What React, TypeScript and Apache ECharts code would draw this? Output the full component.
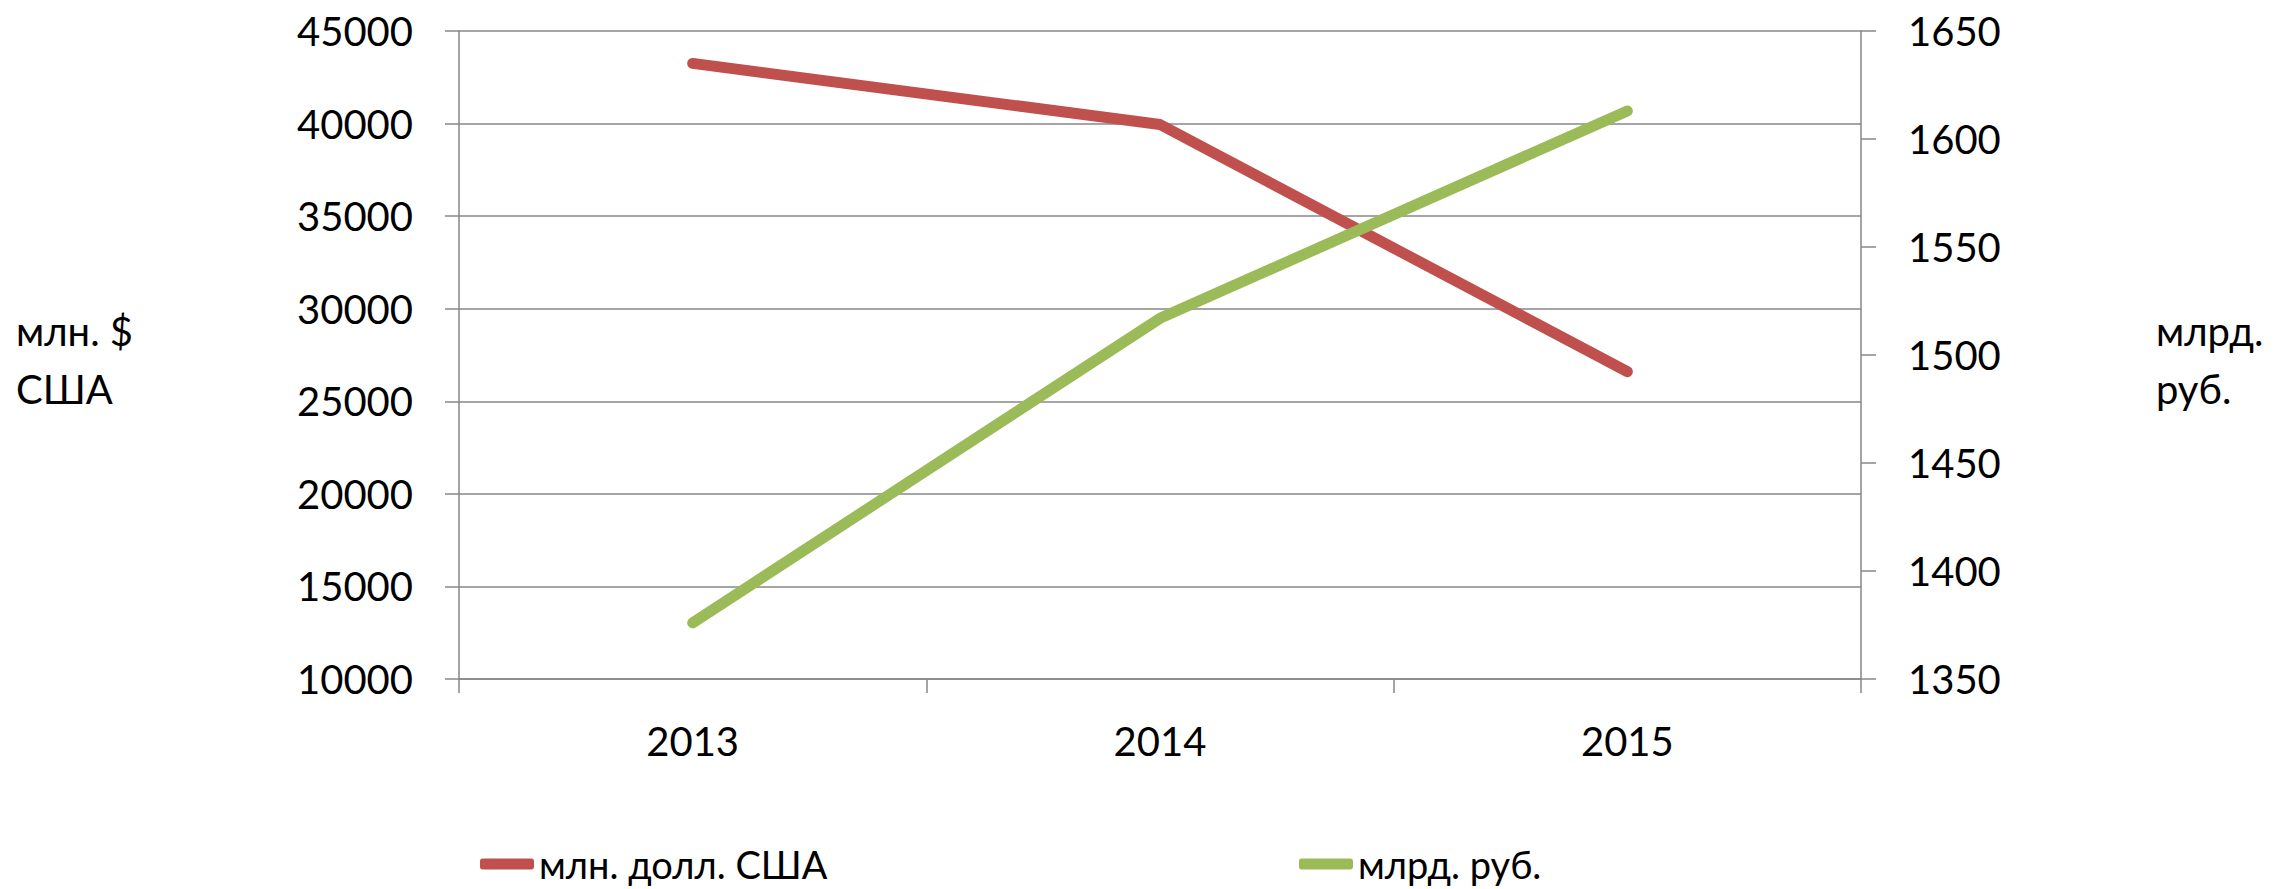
import React, { useEffect, useRef } from "react";
import * as echarts from "echarts";

const years = ["2013", "2014", "2015"];
const usdMln = [43250, 39950, 26600];
const rubBln = [1376, 1517, 1613];
const seriesNames = ["млн. долл. США", "млрд. руб."];
const leftTitle = "млн. $\nСША";
const rightTitle = "млрд.\nруб.";
const colors = ["#C0504D", "#9BBB59"];

export default function App() {
  const ref = useRef<HTMLDivElement>(null);
  useEffect(() => {
    document.body.style.margin = "0";
    const chart = echarts.init(ref.current!, null, { renderer: "svg" });
    const grey = "#878787";
    const font = "Lato";
    const plain = (v: number) => String(v);
    const legendText = { fontFamily: font, fontSize: 38, color: "#000", lineHeight: 44 };
    const legendBase = {
      top: 842,
      padding: 0,
      itemWidth: 54,
      itemHeight: 11,
      textStyle: legendText,
      selectedMode: false,
    };
    chart.setOption({
      animation: false,
      backgroundColor: "#ffffff",
      textStyle: { fontFamily: font, color: "#000" },
      grid: { left: 459, right: 413, top: 31, bottom: 210, containLabel: false },
      legend: [
        { ...legendBase, data: [{ name: seriesNames[0], icon: "roundRect" }], left: 480 },
        { ...legendBase, data: [{ name: seriesNames[1], icon: "roundRect" }], left: 1299 },
      ],
      xAxis: {
        type: "category",
        data: years,
        boundaryGap: true,
        axisLine: { show: true, lineStyle: { color: grey, width: 1.5 } },
        axisTick: { show: true, length: 14, lineStyle: { color: grey, width: 1.5 } },
        axisLabel: { fontSize: 40, fontFamily: font, color: "#000", margin: 42, lineHeight: 40 },
        splitLine: { show: false },
      },
      yAxis: [
        {
          type: "value",
          min: 10000,
          max: 45000,
          interval: 5000,
          position: "left",
          axisLine: { show: true, lineStyle: { color: grey, width: 1.5 } },
          axisTick: { show: true, length: 14, lineStyle: { color: grey, width: 1.5 } },
          axisLabel: { fontSize: 40, fontFamily: font, color: "#000", margin: 46, formatter: plain },
          splitLine: { show: true, lineStyle: { color: grey, width: 1.5 } },
        },
        {
          type: "value",
          min: 1350,
          max: 1650,
          interval: 50,
          position: "right",
          axisLine: { show: true, lineStyle: { color: grey, width: 1.5 } },
          axisTick: { show: true, length: 15, lineStyle: { color: grey, width: 1.5 } },
          axisLabel: { fontSize: 40, fontFamily: font, color: "#000", margin: 47, formatter: plain },
          splitLine: { show: false },
        },
      ],
      series: [
        {
          name: seriesNames[0],
          type: "line",
          yAxisIndex: 0,
          data: usdMln,
          symbol: "none",
          color: colors[0],
          lineStyle: { width: 11, color: colors[0], cap: "round", join: "round" },
        },
        {
          name: seriesNames[1],
          type: "line",
          yAxisIndex: 1,
          data: rubBln,
          symbol: "none",
          color: colors[1],
          lineStyle: { width: 11, color: colors[1], cap: "round", join: "round" },
        },
      ],
      graphic: [
        {
          type: "text",
          left: 16,
          top: 302,
          style: { text: leftTitle, font: `40px ${font}`, fill: "#000", lineHeight: 58 },
        },
        {
          type: "text",
          left: 2156,
          top: 302,
          style: { text: rightTitle, font: `40px ${font}`, fill: "#000", lineHeight: 58 },
        },
      ],
    });
    return () => chart.dispose();
  }, []);
  return <div ref={ref} style={{ width: 2274, height: 889 }} />;
}
